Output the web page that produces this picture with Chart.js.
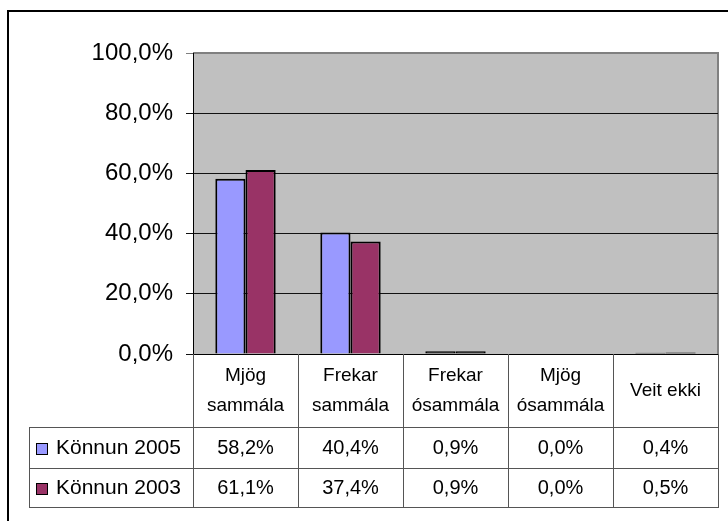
<!DOCTYPE html>
<html lang="is">
<head>
<meta charset="UTF-8">
<title>Könnun 2005 / 2003</title>
<script src="https://cdn.jsdelivr.net/npm/chart.js@4"></script>
<style>
  html, body { margin: 0; padding: 0; background: #fff; }
  canvas { display: block; }
</style>
</head>
<body>
<canvas id="chart" width="728" height="521"></canvas>
<script>
// ---------------------------------------------------------------------------
// Data
// ---------------------------------------------------------------------------
const categories = [['Mjög', 'sammála'], ['Frekar', 'sammála'], ['Frekar', 'ósammála'], ['Mjög', 'ósammála'], 'Veit ekki'];
const seriesNames = ['Könnun 2005', 'Könnun 2003'];
const values2005 = [58.2, 40.4, 0.9, 0.0, 0.4];
const values2003 = [61.1, 37.4, 0.9, 0.0, 0.5];
const yMin = 0, yMax = 100, yStep = 20;

const colors = ['#9999FF', '#993366'];
const FONT = "'Liberation Sans', Arial, sans-serif";

const fmt = v => v.toFixed(1).replace('.', ',') + '%';

// ---------------------------------------------------------------------------
// Layout constants (pixels)
// ---------------------------------------------------------------------------
const TABLE_TOP = 427;      // bottom of the header (category) row
const ROW_SPLIT = 468;
const TABLE_BOTTOM = 507;
const LEGEND_LEFT = 29;

// Plot background + outer frame
const backdrop = {
  id: 'backdrop',
  beforeDraw(chart) {
    const { ctx, chartArea: a } = chart;
    ctx.save();
    ctx.fillStyle = '#C0C0C0';
    ctx.fillRect(a.left, a.top, a.right - a.left, a.bottom - a.top);
    // grey border top/right
    ctx.strokeStyle = '#808080';
    ctx.lineWidth = 2;
    ctx.beginPath();
    ctx.moveTo(a.left, a.top);
    ctx.lineTo(a.right, a.top);
    ctx.lineTo(a.right, a.bottom);
    ctx.stroke();
    // outer chart frame (only left/top visible in the crop)
    ctx.strokeStyle = '#000';
    ctx.lineWidth = 2;
    ctx.beginPath();
    ctx.moveTo(8, chart.height + 2);
    ctx.lineTo(8, 11);
    ctx.lineTo(chart.width + 2, 11);
    ctx.stroke();
    ctx.restore();
  }
};

// Data table below the axis
const dataTable = {
  id: 'dataTable',
  afterDraw(chart) {
    const { ctx, chartArea: a } = chart;
    const x = chart.scales.x;
    const n = categories.length;
    const bounds = [a.left];
    for (let i = 1; i < n; i++) {
      bounds.push(Math.round((x.getPixelForTick(i - 1) + x.getPixelForTick(i)) / 2));
    }
    bounds.push(a.right);

    ctx.save();
    ctx.strokeStyle = '#555';
    ctx.lineWidth = 1;
    ctx.beginPath();
    // vertical lines
    bounds.forEach(b => {
      ctx.moveTo(b + 0.5, a.bottom);
      ctx.lineTo(b + 0.5, TABLE_BOTTOM);
    });
    ctx.moveTo(LEGEND_LEFT + 0.5, TABLE_TOP);
    ctx.lineTo(LEGEND_LEFT + 0.5, TABLE_BOTTOM);
    // horizontal lines
    [TABLE_TOP, ROW_SPLIT, TABLE_BOTTOM].forEach(y => {
      ctx.moveTo(LEGEND_LEFT, y + 0.5);
      ctx.lineTo(a.right + 1, y + 0.5);
    });
    ctx.stroke();

    const rows = [[TABLE_TOP, ROW_SPLIT], [ROW_SPLIT, TABLE_BOTTOM]];
    ctx.fillStyle = '#000';
    ctx.textBaseline = 'middle';
    chart.data.datasets.forEach((ds, r) => {
      const cy = (rows[r][0] + rows[r][1]) / 2 + 1;
      // legend key
      ctx.fillStyle = colors[r];
      ctx.fillRect(36, Math.round(cy) - 6, 12, 12);
      ctx.strokeStyle = '#000';
      ctx.strokeRect(36.5, Math.round(cy) - 5.5, 11, 11);
      ctx.fillStyle = '#000';
      ctx.textAlign = 'left';
      ctx.font = '21px ' + FONT;
      ctx.fillText(ds.label, 56, cy);
      // values
      ctx.textAlign = 'center';
      ctx.font = '20px ' + FONT;
      ds.data.forEach((v, i) => {
        ctx.fillText(fmt(v), (bounds[i] + bounds[i + 1]) / 2, cy);
      });
    });
    ctx.restore();
  }
};

new Chart(document.getElementById('chart'), {
  type: 'bar',
  data: {
    labels: categories,
    datasets: [
      { label: seriesNames[0], data: values2005 },
      { label: seriesNames[1], data: values2003 }
    ].map((d, i) => Object.assign(d, {
      // very small bars show only as their black outline
      backgroundColor: ctx => (ctx.raw < 2 ? '#000' : colors[i]),
      borderColor: '#000',
      borderWidth: 2,
      categoryPercentage: 0.575,
      barPercentage: 1.0
    }))
  },
  options: {
    responsive: false,
    animation: false,
    events: [],
    layout: { padding: { top: 53, right: 10, bottom: 521 - TABLE_TOP, left: 0 } },
    plugins: {
      legend: { display: false },
      tooltip: { enabled: false }
    },
    scales: {
      x: {
        grid: { display: false, drawTicks: false },
        border: { display: true, color: '#000', width: 1 },
        ticks: {
          color: '#000',
          font: { family: FONT, size: 19, lineHeight: 1.55 },
          maxRotation: 0,
          autoSkip: false,
          crossAlign: 'center',
          padding: 22
        },
        afterFit(scale) { scale.height = TABLE_TOP - 354; }
      },
      y: {
        min: yMin,
        max: yMax,
        ticks: {
          stepSize: yStep,
          color: '#000',
          font: { family: FONT, size: 24 },
          padding: 13,
          callback: v => fmt(v)
        },
        grid: {
          color: ctx => ctx.tick && ctx.tick.value === yMax ? '#808080' : '#111',
          lineWidth: 1,
          tickLength: 7,
          drawTicks: true
        },
        border: { display: true, color: '#000', width: 1 },
        afterFit(scale) { scale.width = 193; }
      }
    }
  },
  plugins: [backdrop, dataTable]
});
</script>
</body>
</html>
